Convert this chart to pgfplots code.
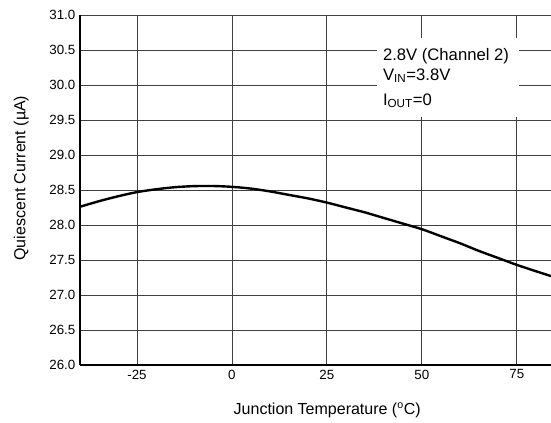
\documentclass[border=0pt]{standalone}
\usepackage{fontspec}
\setmainfont{Liberation Sans}
\usepackage{pgfplots}
\pgfplotsset{compat=1.18}

\pgfplotstableread{
T Iq
-40 28.26
-35 28.34
-30 28.41
-25 28.47
-20 28.51
-15 28.54
-10 28.555
-5 28.557
0 28.545
5 28.52
10 28.48
15 28.43
20 28.38
25 28.32
30 28.25
35 28.18
40 28.10
45 28.02
50 27.94
55 27.84
60 27.74
65 27.63
70 27.53
75 27.43
80 27.34
84 27.27
}\iqdata

\begin{document}
\begin{tikzpicture}
\begin{axis}[
    scale only axis,
    width=353.25pt, height=262.5pt,
    xmin=-40, xmax=84,
    ymin=26, ymax=31,
    xtick={-25,0,25,50,75},
    ytick={26,26.5,...,31},
    yticklabel style={/pgf/number format/fixed, /pgf/number format/fixed zerofill, /pgf/number format/precision=1},
    /pgf/number format/assume math mode=true,
    ticklabel style={font=\fontsize{10}{12}\selectfont},
    major tick length=0pt,
    axis lines*=left,
    axis line style={black, line width=0.8pt, -},
    grid=major,
    major grid style={black!75, line width=0.6pt},
    xlabel={Junction Temperature (\textsuperscript{o}C)},
    ylabel={Quiescent Current (µA)},
    label style={font=\fontsize{12}{14}\selectfont},
    xlabel style={at={(axis description cs:0.525,-0.13)}, anchor=center},
    ylabel style={at={(axis description cs:-0.125,0.534)}, anchor=center, rotate=0},
    clip=true,
]
\addplot[black, line width=1.8pt, smooth] table[x=T, y=Iq] {\iqdata};
\fill[white] (axis cs:38.2,29.54) rectangle (axis cs:75.5,30.67);
\node[anchor=base west, font=\fontsize{12.5}{14}\selectfont, inner sep=0pt] at (axis cs:39.7,30.357) {2.8V (Channel 2)};
\node[anchor=base west, font=\fontsize{12.5}{14}\selectfont, inner sep=0pt] at (axis cs:39.7,30.07) {V\textsubscript{IN}=3.8V};
\node[anchor=base west, font=\fontsize{12.5}{14}\selectfont, inner sep=0pt] at (axis cs:39.7,29.714) {I\textsubscript{OUT}=0};
\end{axis}
\pgfresetboundingbox
\path ([shift={(-60pt,-43.5pt)}]current axis.south west) rectangle ([shift={(0pt,11.25pt)}]current axis.north east);
\end{tikzpicture}
\end{document}
